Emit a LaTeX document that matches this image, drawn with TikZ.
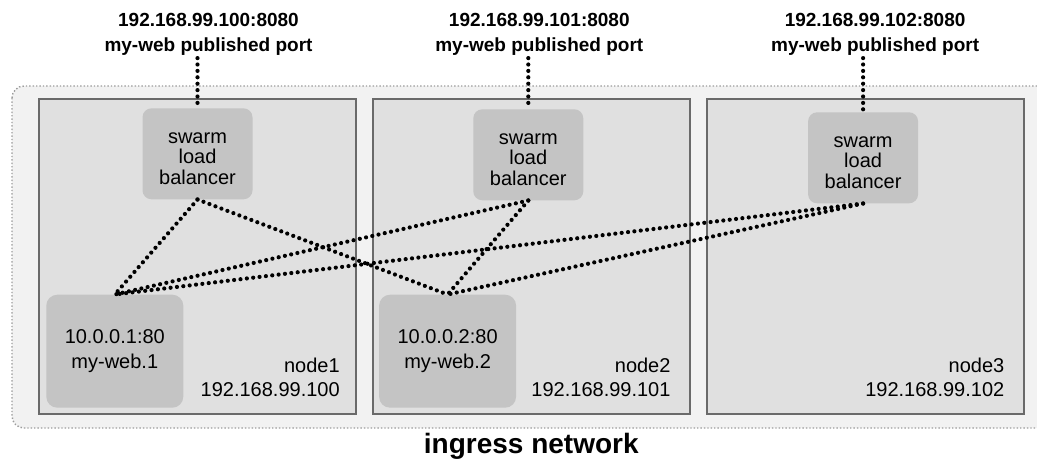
\documentclass[tikz,border=0pt]{standalone}
\usepackage{fontspec}
\setmainfont{Liberation Sans}
\usetikzlibrary{positioning}
\definecolor{NetGrey}{HTML}{F2F2F2}
\definecolor{HostGrey}{HTML}{E0E0E0}
\definecolor{EdgeGrey}{HTML}{6A6A6A}
\definecolor{BoxGrey}{HTML}{C4C4C4}
\definecolor{DotGrey}{HTML}{9C9C9C}

\begin{document}
\begin{tikzpicture}[x=1pt, y=-1pt,
  every node/.style={align=center, font=\fontsize{20}{20.5}\selectfont},
  host/.style={draw=EdgeGrey, line width=1.8pt, fill=HostGrey, minimum width=317pt, minimum height=315pt},
  balancer/.style={fill=BoxGrey, rounded corners=9pt, minimum width=110pt, minimum height=91pt, inner sep=0pt},
  task/.style={fill=BoxGrey, rounded corners=11pt, minimum width=137pt, minimum height=113pt, font=\fontsize{20}{24.5}\selectfont},
  hostlabel/.style={align=right, inner sep=0pt, font=\fontsize{20}{24}\selectfont},
  port/.style={inner sep=2pt, font=\bfseries\fontsize{19}{25}\selectfont},
  link/.style={line width=4.2pt, line cap=round, dash pattern=on 0pt off 6.4pt}]
  \useasboundingbox (0,0) rectangle (1037,461);
  \draw[DotGrey, line width=1.4pt, dotted, fill=NetGrey, rounded corners=12pt] (12,86) rectangle (1060,428);
  \node[host] (host1) at (197.5,256.5) {};
  \node[host,right=15pt of host1] (host2) {};
  \node[host,right=15pt of host2] (host3) {};
  \node[balancer,below=10pt of host1.north] (lb1) {\rule{0pt}{20pt}swarm\\load\\balancer};
  \node[balancer,below=11pt of host2.north,xshift=-3pt] (lb2) {\rule{0pt}{20pt}swarm\\load\\balancer};
  \node[balancer,below=14pt of host3.north,xshift=-2pt] (lb3) {\rule{0pt}{20pt}swarm\\load\\balancer};
  \node[port,above=50pt of lb1,xshift=11pt] (port1) {192.168.99.100:8080\\my-web published port};
  \node[port,above=51pt of lb2,xshift=11pt] (port2) {192.168.99.101:8080\\my-web published port};
  \node[port,above=54pt of lb3,xshift=12pt] (port3) {192.168.99.102:8080\\my-web published port};
  \node[task,above right=7pt and 8pt of host1.south west] (web1) {10.0.0.1:80\\my-web.1};
  \node[task,above right=7pt and 7pt of host2.south west] (web2) {10.0.0.2:80\\my-web.2};
  \node[hostlabel,above left=18pt and 17pt of host1.south east] (name1) {node1\\192.168.99.100};
  \node[hostlabel,above left=18pt and 20pt of host2.south east] (name2) {node2\\192.168.99.101};
  \node[hostlabel,above left=18pt and 20pt of host3.south east] (name3) {node3\\192.168.99.102};
  \node[below=18pt of host2,inner sep=0pt,font=\bfseries\fontsize{28}{28}\selectfont] (ingress) {ingress network};
  \draw[link] (port1.south -| lb1.north) -- (lb1.north);
  \draw[link] (port2.south -| lb2.north) -- (lb2.north);
  \draw[link] (port3.south -| lb3.north) -- (lb3.north);
  \draw[link] (lb1.south) -- (web1.north);
  \draw[link] (lb1.south) -- (web2.north);
  \draw[link] (lb2.south) -- (web1.north);
  \draw[link] (lb2.south) -- (web2.north);
  \draw[link] (lb3.south) -- (web1.north);
  \draw[link] (lb3.south) -- (web2.north);
\end{tikzpicture}
\end{document}
